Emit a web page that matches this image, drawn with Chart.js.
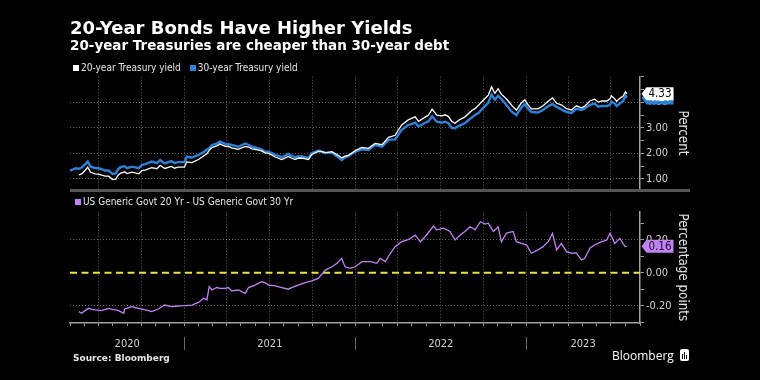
<!DOCTYPE html>
<html>
<head>
<meta charset="utf-8">
<script src="https://cdn.jsdelivr.net/npm/chart.js@4.4.1/dist/chart.umd.min.js"></script>
<style>
html,body{margin:0;padding:0;background:#000;}
#wrap{position:relative;width:760px;height:380px;overflow:hidden;background:#000;color:#fff;font-family:"DejaVu Sans",sans-serif;}
#wrap canvas{position:absolute;left:0;top:0;}
.t{position:absolute;white-space:nowrap;line-height:1;}
.cond{font-family:"DejaVu Sans Condensed","DejaVu Sans",sans-serif;}
.sq{display:inline-block;width:6px;height:6px;margin-right:2px;vertical-align:0px;}
</style>
</head>
<body>
<div id="wrap">
  <canvas id="topc" width="760" height="380" style="width:760px;height:380px"></canvas>
  <canvas id="botc" width="760" height="380" style="width:760px;height:380px"></canvas>
  <div class="t" style="left:70px;top:19px;font-size:18px;font-weight:bold;">20-Year Bonds Have Higher Yields</div>
  <div class="t" style="left:70px;top:38.5px;font-size:13.5px;font-weight:bold;">20-year Treasuries are cheaper than 30-year debt</div>
  <div class="t cond" style="left:73px;top:62.5px;font-size:10px;color:#e6e6e6;"><span class="sq" style="background:#fff"></span>20-year Treasury yield<span class="sq" style="background:#2f80d8;margin-left:9px"></span>30-year Treasury yield</div>
  <div class="t cond" style="left:75px;top:196.5px;font-size:10px;color:#e6e6e6;"><span class="sq" style="background:#c283f2"></span>US Generic Govt 20 Yr - US Generic Govt 30 Yr</div>
  <div style="position:absolute;left:70px;top:189px;width:620px;height:3px;background:#555;"></div>
  <div class="t" style="left:73px;top:353.5px;font-size:9px;font-weight:bold;color:#e6e6e6;">Source: Bloomberg</div>
  <div class="t" style="left:612px;top:350px;font-size:12px;font-family:'Open Sans','DejaVu Sans',sans-serif;">Bloomberg</div>
  <div style="position:absolute;left:680px;top:349px;width:9px;height:12px;background:#fff;border-radius:2px;">
    <div style="position:absolute;left:2px;top:5px;width:1px;height:5px;background:#000"></div>
    <div style="position:absolute;left:4px;top:3px;width:1px;height:7px;background:#000"></div>
    <div style="position:absolute;left:6px;top:6px;width:1px;height:4px;background:#000"></div>
  </div>
</div>
<script>
// ---------------- data ----------------
const topDates = [
 '2020-05-01','2020-05-08','2020-05-13','2020-05-20','2020-05-27','2020-06-03','2020-06-08','2020-06-14','2020-06-24','2020-07-01',
 '2020-07-08','2020-07-15','2020-07-23','2020-07-31','2020-08-07','2020-08-12','2020-08-17','2020-08-26','2020-08-31','2020-09-11',
 '2020-09-25','2020-10-02','2020-10-09','2020-10-23','2020-11-03','2020-11-10','2020-11-20','2020-12-04','2020-12-11','2020-12-18',
 '2021-01-01','2021-01-06','2021-01-17','2021-01-31','2021-02-11','2021-02-18','2021-02-23','2021-03-01','2021-03-11','2021-03-18',
 '2021-03-29','2021-04-05','2021-04-12','2021-04-26','2021-05-11','2021-05-18','2021-05-25','2021-06-01','2021-06-08','2021-06-15',
 '2021-06-22','2021-06-30','2021-07-14','2021-07-28','2021-08-11','2021-08-18','2021-08-25','2021-09-01','2021-09-09','2021-09-23',
 '2021-09-30','2021-10-14','2021-10-21','2021-10-29','2021-11-12','2021-11-19','2021-12-03','2021-12-10','2021-12-17','2022-01-01',
 '2022-01-15','2022-01-29','2022-02-12','2022-02-27','2022-03-13','2022-03-27','2022-04-10','2022-04-24','2022-05-09','2022-05-16',
 '2022-05-30','2022-06-06','2022-06-14','2022-06-24','2022-07-05','2022-07-12','2022-07-19','2022-07-26','2022-08-02','2022-08-09',
 '2022-08-23','2022-09-07','2022-09-14','2022-09-21','2022-09-28','2022-10-05','2022-10-12','2022-10-19','2022-10-26','2022-11-02',
 '2022-11-09','2022-11-16','2022-11-24','2022-12-01','2022-12-11','2022-12-22','2022-12-29','2023-01-05','2023-01-12','2023-01-26',
 '2023-02-06','2023-02-17','2023-02-26','2023-03-07','2023-03-17','2023-03-28','2023-04-08','2023-04-18','2023-04-29','2023-05-06',
 '2023-05-17','2023-05-27','2023-06-04','2023-06-11','2023-06-22','2023-06-29','2023-07-02','2023-07-09','2023-07-13','2023-07-20',
 '2023-07-27','2023-08-01','2023-08-04'
];
const y20 = [
 null,null,null,1.16,1.21,1.35,1.46,1.26,1.20,1.19,
 1.15,1.11,1.11,0.98,0.99,1.15,1.22,1.28,1.21,1.27,
 1.20,1.33,1.35,1.44,1.40,1.53,1.41,1.49,1.42,1.46,
 1.46,1.67,1.64,1.76,1.90,1.99,2.12,2.23,2.29,2.37,
 2.28,2.27,2.22,2.16,2.27,2.25,2.18,2.16,2.13,2.10,
 2.02,2.00,1.86,1.76,1.88,1.81,1.77,1.81,1.82,1.76,
 1.96,2.08,2.07,2.03,2.07,1.99,1.83,1.89,1.92,2.11,
 2.23,2.20,2.39,2.34,2.63,2.71,3.11,3.31,3.43,3.25,
 3.42,3.49,3.73,3.50,3.47,3.51,3.44,3.25,3.18,3.29,
 3.43,3.68,3.76,3.88,4.02,4.15,4.28,4.60,4.35,4.53,
 4.31,4.20,4.04,3.88,3.69,3.98,4.10,3.90,3.74,3.74,
 3.86,4.04,4.17,3.96,3.90,3.75,3.70,3.86,3.78,3.85,
 4.05,4.12,4.01,4.05,4.05,4.14,4.25,4.13,4.04,4.16,
 4.24,4.41,4.33
];
const y30 = [
 1.33,1.38,1.42,1.40,1.46,1.58,1.68,1.48,1.43,1.42,
 1.38,1.33,1.33,1.20,1.22,1.38,1.46,1.50,1.42,1.48,
 1.42,1.55,1.58,1.68,1.62,1.74,1.61,1.70,1.62,1.66,
 1.66,1.87,1.84,1.94,2.05,2.15,2.20,2.33,2.38,2.46,
 2.37,2.36,2.33,2.26,2.39,2.34,2.26,2.23,2.20,2.16,
 2.07,2.07,1.94,1.85,1.98,1.90,1.85,1.88,1.89,1.81,
 2.01,2.11,2.08,2.01,2.03,1.94,1.74,1.85,1.89,2.07,
 2.16,2.13,2.33,2.26,2.53,2.55,2.92,3.11,3.20,3.05,
 3.20,3.25,3.45,3.24,3.20,3.24,3.18,3.00,2.98,3.07,
 3.18,3.41,3.50,3.58,3.72,3.85,3.98,4.30,4.10,4.25,
 4.12,3.98,3.80,3.63,3.50,3.80,3.93,3.75,3.62,3.60,
 3.70,3.85,3.93,3.82,3.72,3.62,3.58,3.74,3.70,3.76,
 3.90,3.95,3.83,3.86,3.85,3.90,4.03,3.95,3.85,3.95,
 4.05,4.26,4.17
];
const spreadDates = [
 '2020-05-20','2020-05-26','2020-06-02','2020-06-10','2020-06-17','2020-06-24','2020-07-08','2020-07-15','2020-07-23','2020-07-30',
 '2020-08-07','2020-08-14','2020-08-24','2020-08-26','2020-09-04','2020-09-11','2020-09-25','2020-10-09','2020-10-16','2020-10-23',
 '2020-11-06','2020-11-13','2020-11-20','2020-12-04','2020-12-18','2021-01-01','2021-01-17','2021-01-31','2021-02-11','2021-02-18',
 '2021-02-23','2021-03-01','2021-03-11','2021-03-18','2021-03-29','2021-04-05','2021-04-12','2021-04-26','2021-05-11','2021-05-18',
 '2021-06-01','2021-06-15','2021-06-22','2021-06-30','2021-07-14','2021-07-28','2021-08-11','2021-08-18','2021-09-01','2021-09-16',
 '2021-09-30','2021-10-14','2021-10-29','2021-11-12','2021-11-23','2021-12-03','2021-12-10','2021-12-21','2022-01-01','2022-01-15',
 '2022-02-02','2022-02-16','2022-02-23','2022-03-06','2022-03-17','2022-03-27','2022-04-10','2022-04-24','2022-05-09','2022-05-20',
 '2022-05-30','2022-06-17','2022-06-24','2022-07-08','2022-07-12','2022-07-22','2022-08-02','2022-08-13','2022-08-23','2022-09-03',
 '2022-09-14','2022-09-25','2022-10-05','2022-10-12','2022-10-23','2022-11-02','2022-11-09','2022-11-20','2022-12-04','2022-12-11',
 '2022-12-22','2023-01-02','2023-01-12','2023-01-26','2023-02-06','2023-02-17','2023-02-26','2023-03-07','2023-03-17','2023-03-28',
 '2023-04-08','2023-04-18','2023-04-29','2023-05-06','2023-05-17','2023-05-27','2023-06-11','2023-06-22','2023-06-29','2023-07-09',
 '2023-07-20','2023-07-31','2023-08-04'
];
const spread = [
 -0.236,-0.246,-0.230,-0.216,-0.222,-0.226,-0.230,-0.222,-0.216,-0.222,
 -0.226,-0.232,-0.246,-0.220,-0.212,-0.206,-0.216,-0.226,-0.230,-0.236,
 -0.220,-0.208,-0.196,-0.206,-0.202,-0.200,-0.196,-0.180,-0.155,-0.165,
 -0.085,-0.105,-0.090,-0.095,-0.095,-0.090,-0.110,-0.105,-0.125,-0.090,
 -0.075,-0.055,-0.060,-0.075,-0.080,-0.090,-0.100,-0.090,-0.075,-0.060,
 -0.050,-0.035,0.016,0.036,0.057,0.087,0.036,0.026,0.036,0.067,
 0.067,0.057,0.087,0.067,0.118,0.158,0.188,0.200,0.228,0.188,
 0.218,0.283,0.260,0.270,0.265,0.250,0.198,0.228,0.250,0.279,
 0.260,0.309,0.295,0.300,0.250,0.279,0.188,0.240,0.250,0.188,
 0.178,0.168,0.118,0.138,0.158,0.188,0.239,0.138,0.178,0.128,
 0.118,0.120,0.077,0.087,0.148,0.168,0.188,0.198,0.239,0.178,
 0.208,0.158,0.160
];
const yearLabels = ['2020','2021','2022','2023'];
const xRange = ['2020-05-01','2023-09-01'];
const topRange = [0.6, 5.0];
const topTickValues = [1, 2, 3, 4];
const botRange = [-0.305, 0.37];
const botTickValues = [-0.2, 0, 0.2];

// ---------------- helpers ----------------
function toYear(s){
  const [y,m,d] = s.split('-').map(Number);
  const a = Date.UTC(y,0,1), b = Date.UTC(y+1,0,1);
  return y + (Date.UTC(y,m-1,d) - a) / (b - a);
}
const xMin = toYear(xRange[0]), xMax = toYear(xRange[1]);
const monthTicks = [];
for (let y = 2020; y <= 2023; y++) {
  for (let m = 1; m <= 12; m++) {
    const v = toYear(y + '-' + String(m).padStart(2,'0') + '-01');
    if (v >= xMin - 1e-9 && v <= xMax + 1e-9) monthTicks.push({value: v, q: (m - 1) % 3 === 0});
  }
}
function steps(a, b, st){ const out = []; const n = Math.round((b - a) / st); for (let i = 0; i <= n; i++) out.push(+(a + i * st).toFixed(4)); return out; }
const topMinor = steps(1.0, 5.0, 0.5);
const botMinor = steps(-0.3, 0.3, 0.1);

const FONT_C = '"DejaVu Sans Condensed","DejaVu Sans",sans-serif';
Chart.defaults.font.family = FONT_C;
const GRID = 'rgba(165,165,165,0.6)';
const AXIS = '#a0a0a0';
const NONE = 'rgba(0,0,0,0)';
const isLab = (arr, v) => arr.some(l => Math.abs(l - v) < 1e-6);

function xAxis(showBorder){
  return {
    type: 'linear', min: xMin, max: xMax, offset: false,
    afterBuildTicks: s => { s.ticks = monthTicks.map(t => ({value: t.value, q: t.q})); },
    ticks: {display: false, autoSkip: false},
    grid: {display: true, drawOnChartArea: true, drawTicks: showBorder, tickLength: 3,
      color: c => (c.tick && c.tick.q) ? GRID : NONE, tickColor: AXIS, tickWidth: 1, lineWidth: 1},
    border: {display: showBorder, color: AXIS, width: 1.5, dash: [1, 2]},
    afterFit: s => { s.height = 0; }
  };
}
function yAxis(range, minor, labeled, title){
  return {
    type: 'linear', position: 'right', min: range[0], max: range[1],
    afterBuildTicks: s => { s.ticks = minor.map(v => ({value: v})); },
    ticks: {autoSkip: false, color: '#d2d2d2', font: {family: FONT_C, size: 11}, padding: 2,
      callback: v => isLab(labeled, v) ? Number(v).toFixed(2) : ''},
    grid: {color: c => (c.tick && isLab(labeled, c.tick.value) && Math.abs(c.tick.value) > 1e-6) ? GRID : NONE,
      tickLength: 4, tickColor: AXIS, tickWidth: 1},
    border: {display: true, color: AXIS, width: 1.5, dash: [1, 2]},
    title: {display: true, text: title, color: '#e2e2e2', font: {family: FONT_C, size: 13.3}, padding: 0},
    afterFit: s => { s.width = 50; s.paddingTop = 0; s.paddingBottom = 0; }
  };
}

const lastLabelPlugin = {
  id: 'lastLabels',
  afterDraw(chart, args, opts){
    const ctx = chart.ctx, ys = chart.scales.y;
    (opts.items || []).forEach(it => {
      const py = ys.getPixelForValue(it.value);
      const x0 = ys.left + 1.5, h = 13, w = 32;
      ctx.save();
      ctx.fillStyle = it.bg;
      ctx.beginPath();
      ctx.moveTo(x0, py);
      ctx.lineTo(x0 + 5, py - h / 2);
      ctx.lineTo(x0 + w, py - h / 2);
      ctx.lineTo(x0 + w, py + h / 2);
      ctx.lineTo(x0 + 5, py + h / 2);
      ctx.closePath();
      ctx.fill();
      ctx.fillStyle = it.fg;
      ctx.font = '11.5px ' + FONT_C;
      ctx.textBaseline = 'middle';
      ctx.textAlign = 'left';
      ctx.fillText(it.value.toFixed(2), x0 + 7, py + 0.5);
      ctx.restore();
    });
  }
};
const yearPlugin = {
  id: 'years',
  afterDraw(chart){
    const ctx = chart.ctx, xs = chart.scales.x, bottom = chart.chartArea.bottom;
    ctx.save();
    ctx.fillStyle = '#d2d2d2';
    ctx.font = '11px ' + FONT_C;
    ctx.textAlign = 'center';
    ctx.textBaseline = 'middle';
    ctx.strokeStyle = '#6a6a6a';
    ctx.lineWidth = 1;
    yearLabels.forEach(lab => {
      const a = toYear(lab + '-01-01'), b = toYear((Number(lab) + 1) + '-01-01');
      const lo = Math.max(a, xs.min), hi = Math.min(b, xs.max);
      const px = (xs.getPixelForValue(lo) + xs.getPixelForValue(hi)) / 2;
      ctx.fillText(lab, px, bottom + 21);
      if (a > xs.min) {
        const sx = Math.round(xs.getPixelForValue(a)) + 0.5;
        ctx.beginPath(); ctx.moveTo(sx, bottom + 14); ctx.lineTo(sx, bottom + 27); ctx.stroke();
      }
    });
    ctx.restore();
  }
};

const base = {responsive: false, animation: false, devicePixelRatio: 1, events: []};

new Chart(document.getElementById('topc'), {
  type: 'line',
  data: {datasets: [
    {label: '20-year Treasury yield', data: topDates.map((d, i) => ({x: toYear(d), y: y20[i]})),
     borderColor: '#ffffff', borderWidth: 1.3, pointRadius: 0, tension: 0},
    {label: '30-year Treasury yield', data: topDates.map((d, i) => ({x: toYear(d), y: y30[i]})),
     borderColor: '#2f80d8', borderWidth: 2.4, pointRadius: 0, tension: 0}
  ]},
  options: Object.assign({}, base, {
    layout: {padding: {left: 70, right: 70, top: 76.7, bottom: 190.8}},
    scales: {x: xAxis(false), y: yAxis(topRange, topMinor, topTickValues, 'Percent')},
    plugins: {legend: {display: false}, tooltip: {enabled: false},
      lastLabels: {items: [
        {value: y30[y30.length - 1], bg: '#2f80d8', fg: '#ffffff'},
        {value: y20[y20.length - 1], bg: '#ffffff', fg: '#000000'}
      ]}}
  }),
  plugins: [lastLabelPlugin]
});

new Chart(document.getElementById('botc'), {
  type: 'line',
  data: {datasets: [
    {label: 'US Generic Govt 20 Yr - US Generic Govt 30 Yr', data: spreadDates.map((d, i) => ({x: toYear(d), y: spread[i]})),
     borderColor: '#c283f2', borderWidth: 1.3, pointRadius: 0, tension: 0},
    {label: 'zero', data: [{x: xMin, y: 0}, {x: xMax, y: 0}],
     borderColor: '#f0e23c', borderWidth: 2, borderDash: [7, 4.5], pointRadius: 0}
  ]},
  options: Object.assign({}, base, {
    layout: {padding: {left: 70, right: 70, top: 211.7, bottom: 57}},
    scales: {x: xAxis(true), y: yAxis(botRange, botMinor, botTickValues, 'Percentage points')},
    plugins: {legend: {display: false}, tooltip: {enabled: false},
      lastLabels: {items: [
        {value: spread[spread.length - 1], bg: '#c283f2', fg: '#1b0b2b'}
      ]}}
  }),
  plugins: [lastLabelPlugin, yearPlugin]
});
</script>
</body>
</html>
